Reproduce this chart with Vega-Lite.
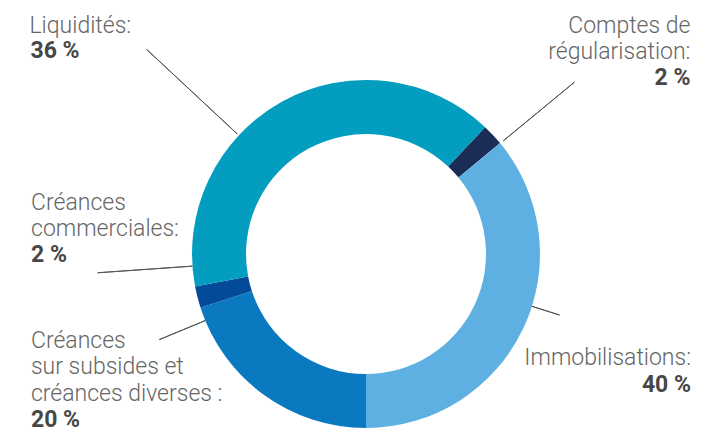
{
  "$schema": "https://vega.github.io/schema/vega-lite/v6.json",
  "width": 348,
  "height": 348,
  "autosize": {"type": "none"},
  "padding": {"left": 192, "top": 80, "right": 166, "bottom": 2},
  "background": "white",
  "view": {"stroke": null},
  "config": {"text": {"font": "Roboto"}},
  "data": {
    "values": [
      {"id": "comptes", "value": 2, "rank": 1, "label": "Comptes de\nrégularisation:", "pct": "2 %"},
      {"id": "immo", "value": 36, "rank": 2, "label": "Immobilisations:", "pct": "40 %"},
      {"id": "subs", "value": 20, "rank": 3, "label": "Créances\nsur subsides et\ncréances diverses :", "pct": "20 %"},
      {"id": "comm", "value": 2, "rank": 4, "label": "Créances\ncommerciales:", "pct": "2 %"},
      {"id": "liq", "value": 40, "rank": 5, "label": "Liquidités:", "pct": "36 %"}
    ]
  },
  "encoding": {
    "theta": {"field": "value", "type": "quantitative", "stack": true, "scale": {"range": [0.753982, 7.037167]}},
    "order": {"field": "rank", "type": "quantitative"}
  },
  "layer": [
    {
      "mark": {"type": "arc", "radius": 174, "radius2": 120},
      "encoding": {
        "color": {
          "field": "id", "type": "nominal", "legend": null,
          "scale": {"domain": ["comptes", "immo", "subs", "comm", "liq"], "range": ["#1b2d56", "#5eb0e2", "#0a79bf", "#034b98", "#039dbf"]}
        }
      }
    },
    {
      "mark": {"type": "arc", "radius": 300, "radius2": 176, "padAngle": 3.14159, "thetaOffset": -0.31765, "theta2Offset": -0.31765, "fill": "transparent", "stroke": "#555555", "strokeWidth": 1},
      "encoding": {"strokeOpacity": {"condition": {"test": "datum.id === 'liq'", "value": 1}, "value": 0}}
    },
    {
      "mark": {"type": "arc", "radius": 270, "radius2": 178, "padAngle": 3.14159, "thetaOffset": 0.06458, "theta2Offset": 0.06458, "fill": "transparent", "stroke": "#555555", "strokeWidth": 1},
      "encoding": {"strokeOpacity": {"condition": {"test": "datum.id === 'comptes'", "value": 1}, "value": 0}}
    },
    {
      "mark": {"type": "arc", "radius": 269, "radius2": 174, "padAngle": 3.14159, "thetaOffset": 0.18151, "theta2Offset": 0.18151, "fill": "transparent", "stroke": "#555555", "strokeWidth": 1},
      "encoding": {"strokeOpacity": {"condition": {"test": "datum.id === 'comm'", "value": 1}, "value": 0}}
    },
    {
      "mark": {"type": "arc", "radius": 224, "radius2": 174, "padAngle": 3.14159, "thetaOffset": 0.54978, "theta2Offset": 0.54978, "fill": "transparent", "stroke": "#555555", "strokeWidth": 1},
      "encoding": {"strokeOpacity": {"condition": {"test": "datum.id === 'subs'", "value": 1}, "value": 0}}
    },
    {
      "mark": {"type": "arc", "radius": 203, "radius2": 174, "padAngle": 3.14159, "thetaOffset": -0.13439, "theta2Offset": -0.13439, "fill": "transparent", "stroke": "#555555", "strokeWidth": 1},
      "encoding": {"strokeOpacity": {"condition": {"test": "datum.id === 'immo'", "value": 1}, "value": 0}}
    },
    {
      "mark": {"type": "text", "radius": 250, "align": "left", "baseline": "alphabetic", "dx": -216.1, "dy": -1.9, "fontSize": 23, "fontWeight": 300, "fill": "#666666", "lineBreak": "\n", "lineHeight": 26.5},
      "encoding": {"text": {"condition": {"test": "datum.id === 'liq'", "field": "label"}, "value": ""}}
    },
    {
      "mark": {"type": "text", "radius": 250, "align": "left", "baseline": "alphabetic", "dx": -215.1, "dy": 23.1, "fontSize": 23, "fontWeight": "bold", "fill": "#474747"},
      "encoding": {"text": {"condition": {"test": "datum.id === 'liq'", "field": "pct"}, "value": ""}}
    },
    {
      "mark": {"type": "text", "radius": 250, "align": "right", "baseline": "alphabetic", "dx": 142.2, "dy": -49.9, "fontSize": 23, "fontWeight": 300, "fill": "#666666", "lineBreak": "\n", "lineHeight": 26.5},
      "encoding": {"text": {"condition": {"test": "datum.id === 'comptes'", "field": "label"}, "value": ""}}
    },
    {
      "mark": {"type": "text", "radius": 250, "align": "right", "baseline": "alphabetic", "dx": 142.2, "dy": 2.1, "fontSize": 23, "fontWeight": "bold", "fill": "#474747"},
      "encoding": {"text": {"condition": {"test": "datum.id === 'comptes'", "field": "pct"}, "value": ""}}
    },
    {
      "mark": {"type": "text", "radius": 250, "align": "right", "baseline": "alphabetic", "dx": 98.8, "dy": 4.5, "fontSize": 23, "fontWeight": 300, "fill": "#666666", "lineBreak": "\n", "lineHeight": 26.5},
      "encoding": {"text": {"condition": {"test": "datum.id === 'immo'", "field": "label"}, "value": ""}}
    },
    {
      "mark": {"type": "text", "radius": 250, "align": "right", "baseline": "alphabetic", "dx": 98.8, "dy": 31.5, "fontSize": 23, "fontWeight": "bold", "fill": "#474747"},
      "encoding": {"text": {"condition": {"test": "datum.id === 'immo'", "field": "pct"}, "value": ""}}
    },
    {
      "mark": {"type": "text", "radius": 250, "align": "left", "baseline": "alphabetic", "dx": -188.1, "dy": -108.3, "fontSize": 23, "fontWeight": 300, "fill": "#666666", "lineBreak": "\n", "lineHeight": 26.5},
      "encoding": {"text": {"condition": {"test": "datum.id === 'subs'", "field": "label"}, "value": ""}}
    },
    {
      "mark": {"type": "text", "radius": 250, "align": "left", "baseline": "alphabetic", "dx": -188.1, "dy": -29.3, "fontSize": 23, "fontWeight": "bold", "fill": "#474747"},
      "encoding": {"text": {"condition": {"test": "datum.id === 'subs'", "field": "pct"}, "value": ""}}
    },
    {
      "mark": {"type": "text", "radius": 250, "align": "left", "baseline": "alphabetic", "dx": -92.8, "dy": -106.2, "fontSize": 23, "fontWeight": 300, "fill": "#666666", "lineBreak": "\n", "lineHeight": 26.5},
      "encoding": {"text": {"condition": {"test": "datum.id === 'comm'", "field": "label"}, "value": ""}}
    },
    {
      "mark": {"type": "text", "radius": 250, "align": "left", "baseline": "alphabetic", "dx": -92.8, "dy": -54.2, "fontSize": 23, "fontWeight": "bold", "fill": "#474747"},
      "encoding": {"text": {"condition": {"test": "datum.id === 'comm'", "field": "pct"}, "value": ""}}
    }
  ]
}
